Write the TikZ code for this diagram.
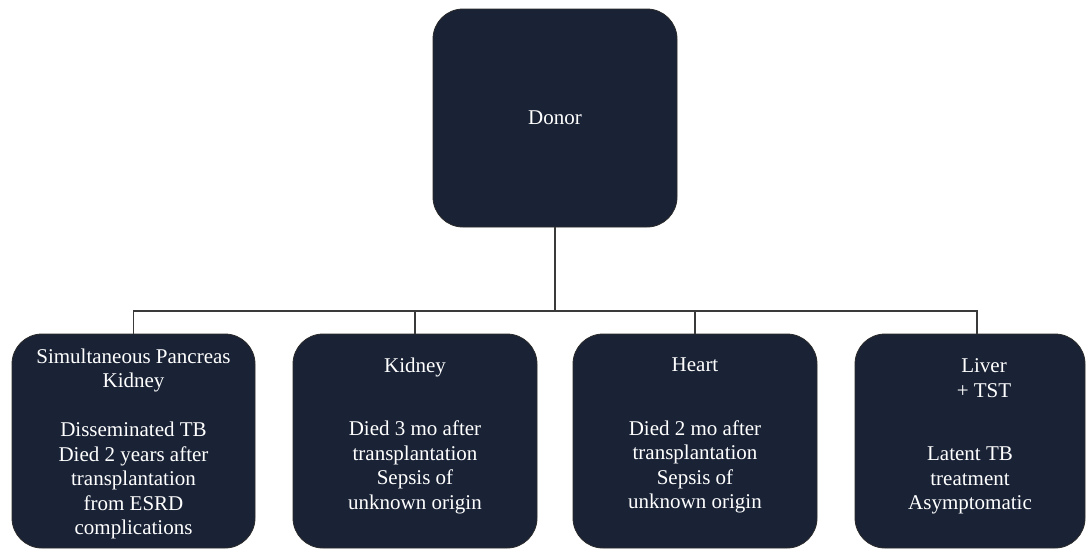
\documentclass[tikz,border=0pt]{standalone}
\usepackage{fontspec}
\setmainfont{Liberation Serif}
\definecolor{boxfill}{HTML}{1A2336}
\definecolor{boxline}{HTML}{2A2A2A}
\definecolor{connline}{HTML}{3A3A3A}
\begin{document}
\begin{tikzpicture}[x=1pt,y=-1pt,
  box/.style={draw=boxline,line width=0.8pt,fill=boxfill,rounded corners=30pt,
    inner sep=0pt,text=white,font=\fontsize{21}{24.5}\selectfont},
  txt/.style={text=white,align=center,inner sep=0pt,anchor=north,
    font=\fontsize{21}{24.5}\selectfont},
  conn/.style={draw=connline,line width=1.1pt}]
\useasboundingbox[fill=white] (0,0) rectangle (1086,550);
% boxes
\node[box,minimum width=244pt,minimum height=218pt] (donor) at (555,118) {Donor};
\node[box,minimum width=243pt,minimum height=214pt] (b1) at (133.5,441) {};
\node[box,minimum width=244pt,minimum height=214pt] (b2) at (415,441) {};
\node[box,minimum width=244pt,minimum height=214pt] (b3) at (695,441) {};
\node[box,minimum width=230pt,minimum height=214pt] (b4) at (970,441) {};
% texts
\node[txt] (t1) at (133.5,348.7) {Simultaneous Pancreas\\Kidney\\[24.5pt]Disseminated TB\\Died 2 years after\\transplantation\\from ESRD\\complications};
\node[txt] (t2) at (415,357.7) {Kidney\\[39pt]Died 3 mo after\\transplantation\\Sepsis of\\unknown origin};
\node[txt] (t3) at (695,358) {Heart\\[39pt]Died 2 mo after\\transplantation\\Sepsis of\\unknown origin};
\node[txt] (t4a) at (984,358.8) {Liver\\+ TST};
\node[txt] (t4b) at (970,447) {Latent TB\\treatment\\Asymptomatic};
% connectors
\coordinate (hub) at (555,311);
\coordinate (b4top) at (977,334);
\draw[conn] (donor.south) -- (hub);
\draw[conn] (b1.north) |- (hub);
\draw[conn] (b4top) |- (hub);
\draw[conn] (b2.north) -- (b2.north |- hub);
\draw[conn] (b3.north) -- (b3.north |- hub);
\end{tikzpicture}
\end{document}
